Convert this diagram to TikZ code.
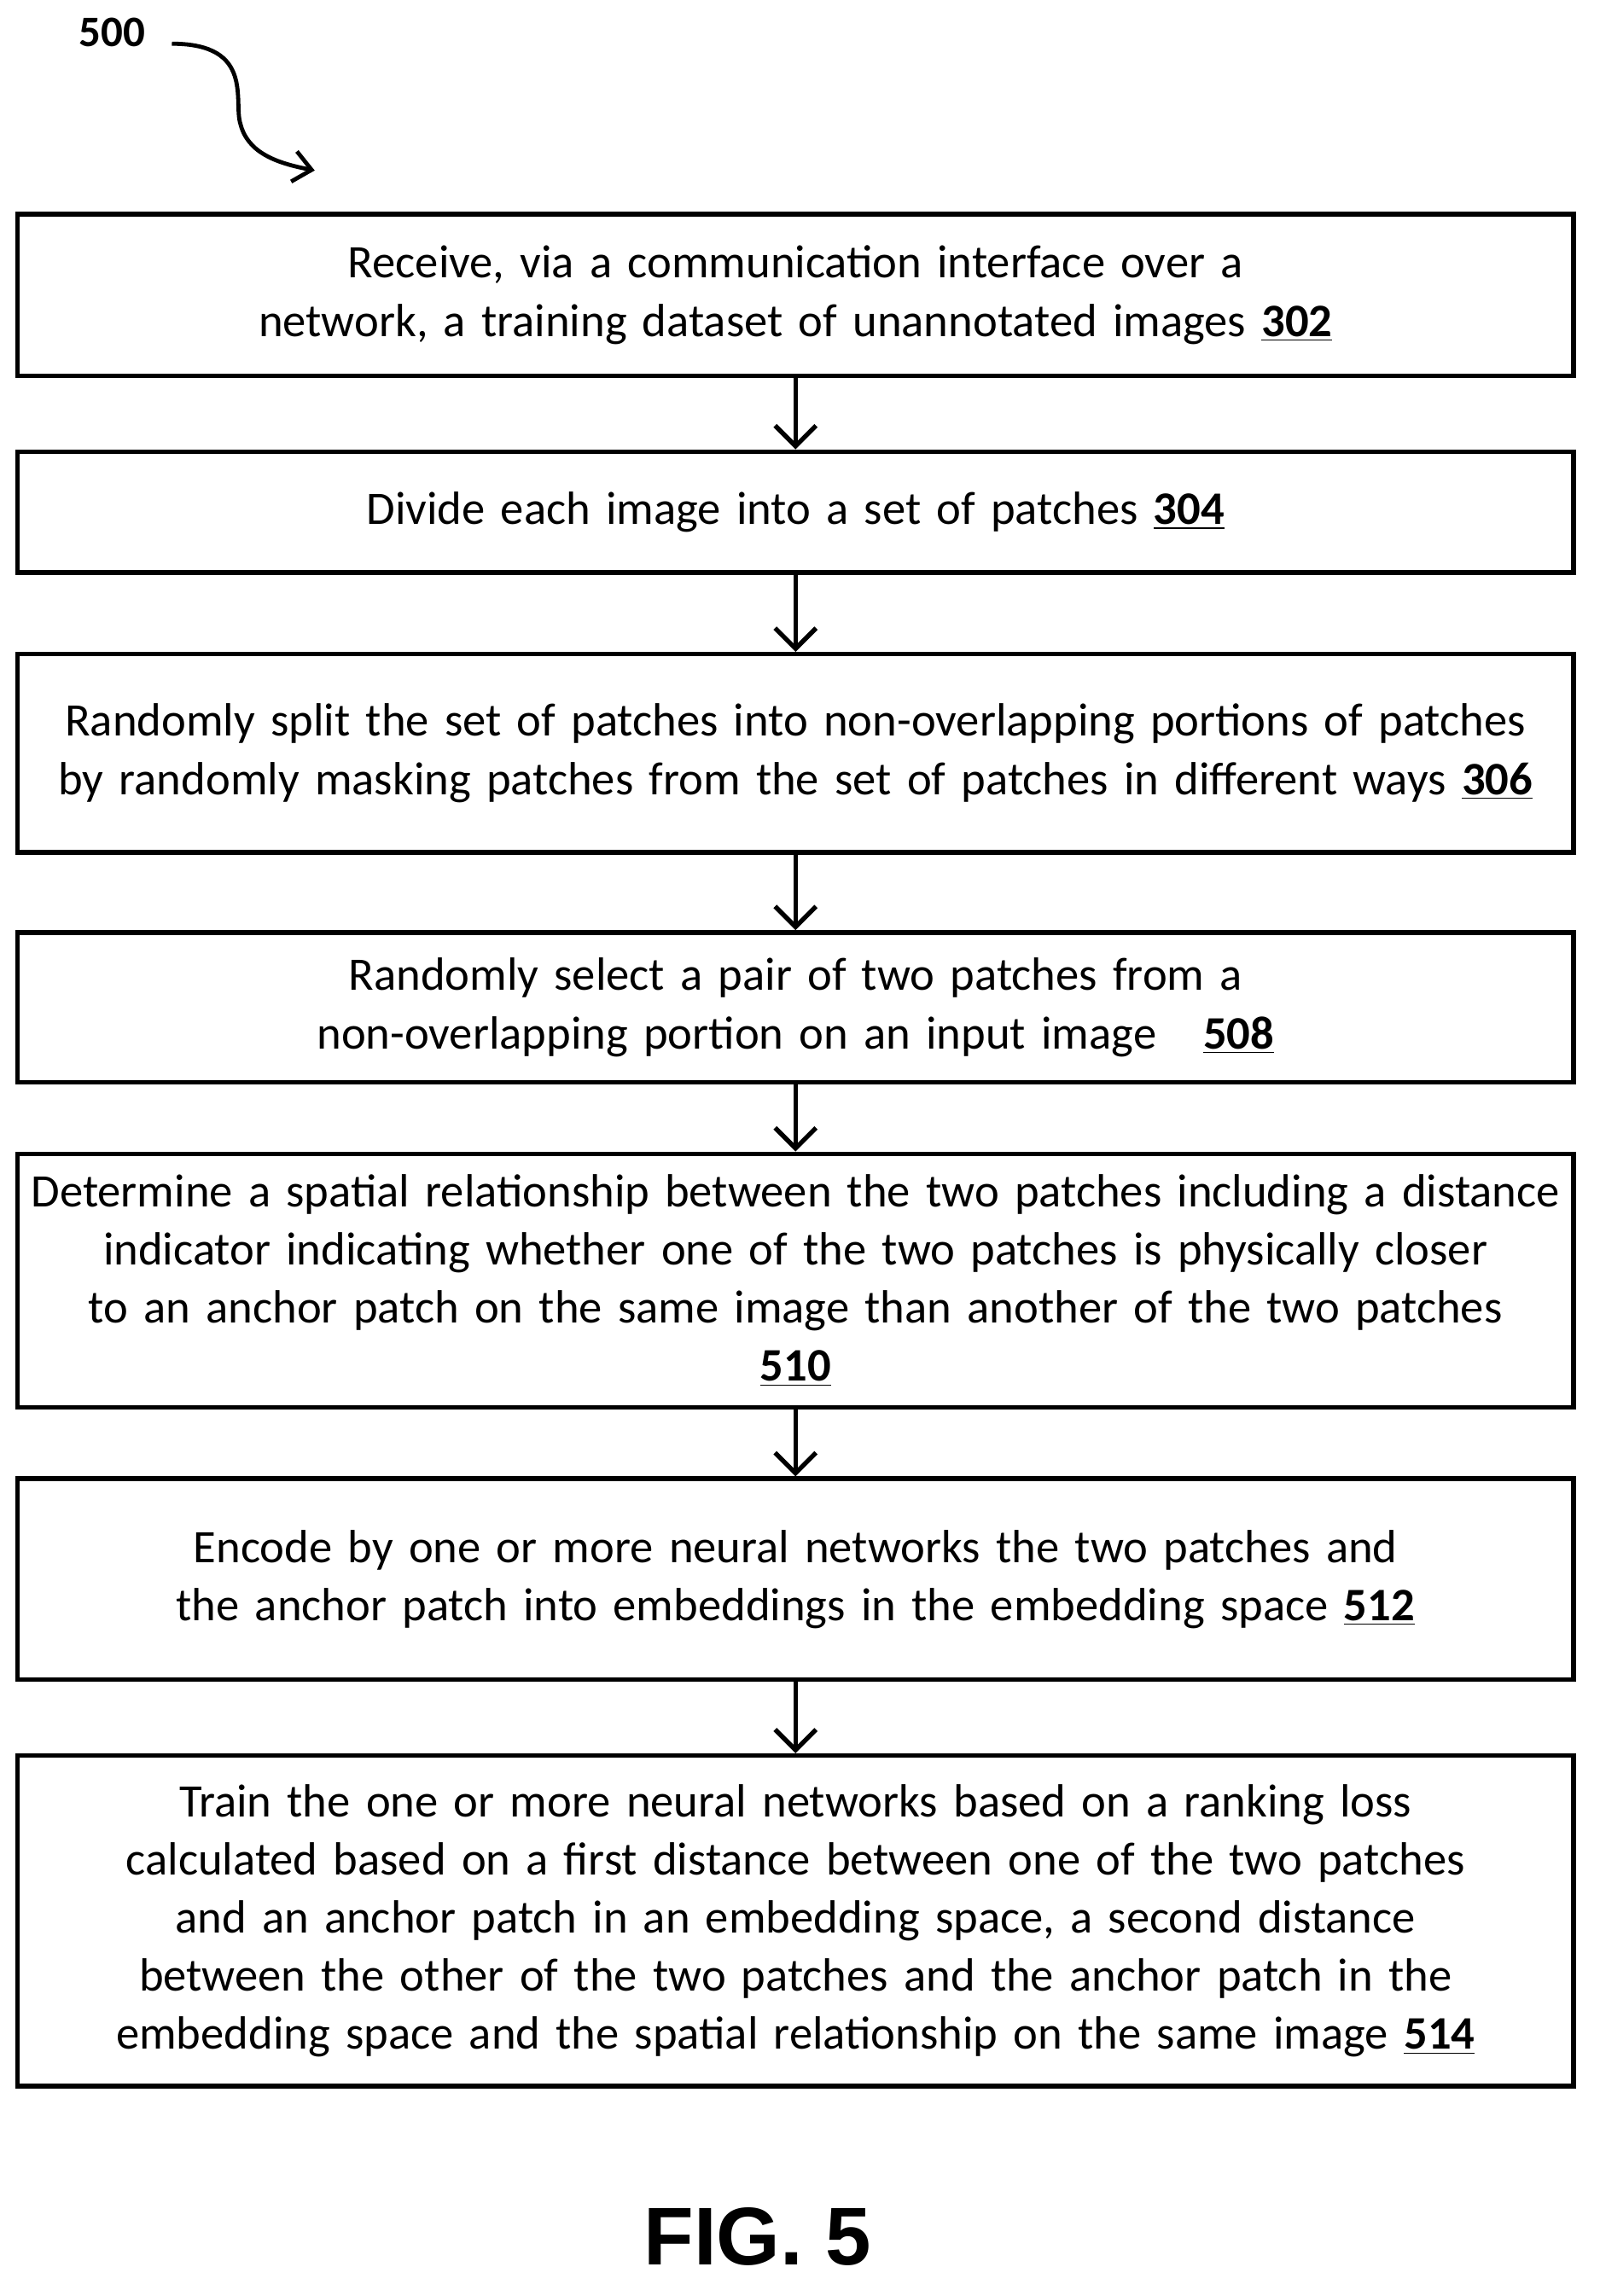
\documentclass[tikz,border=0pt]{standalone}
\usepackage{fontspec}
\setmainfont{Carlito}
\newfontfamily\arialf{Liberation Sans}
\usetikzlibrary{arrows.meta}
\hyphenpenalty=10000
\exhyphenpenalty=10000
\begin{document}
\begin{tikzpicture}[x=0.02cm,y=-0.02cm,
  box/.style={draw,line width=1.8pt,minimum width=21.36cm,text width=21.3cm,align=center,inner sep=0pt,font=\fontsize{18.2}{22.7}\selectfont},
  arr/.style={line width=1.8pt,-{Straight Barb[length=8pt,width=16pt,line width=1.8pt]}}]
\useasboundingbox (0,0) rectangle (1098,1576);
\node[box,minimum height=2.22cm] (b1) at (546,202.5) {Receive, via a communication interface over a network, a training dataset of unannotated images \underline{\textbf{302}}};
\node[box,minimum height=1.66cm] (b2) at (546,351.5) {Divide each image into a set of patches \underline{\textbf{304}}};
\node[box,minimum height=2.72cm] (b3) at (546,517) {Randomly split the set of patches into non-overlapping portions of patches by randomly masking patches from the set of patches in different ways \underline{\textbf{306}}};
\node[box,minimum height=2.06cm] (b4) at (546,691.5) {Randomly select a pair of two patches from a non-overlapping portion on an input image\quad\underline{\textbf{508}}};
\node[box,minimum height=3.48cm] (b5) at (546,879) {Determine a spatial relationship between the two patches including a distance indicator indicating whether one of the two patches is physically closer to an anchor patch on the same image than another of the two patches\\ \underline{\textbf{510}}};
\node[box,minimum height=2.76cm] (b6) at (546,1084) {Encode by one or more neural networks the two patches and the anchor patch into embeddings in the embedding space \underline{\textbf{512}}};
\node[box,minimum height=4.54cm] (b7) at (546,1318.5) {Train the one or more neural networks based on a ranking loss calculated based on a first distance between one of the two patches and an anchor patch in an embedding space, a second distance between the other of the two patches and the anchor patch in the embedding space and the spatial relationship on the same image \underline{\textbf{514}}};
\foreach \a/\b in {b1/b2,b2/b3,b3/b4,b4/b5,b5/b6,b6/b7} \draw[arr] (\a.south) -- (\b.north);
\node[font=\fontsize{17}{20}\selectfont\bfseries] (n500) at (77,22) {500};
\coordinate (c1) at (118,30);
\coordinate (c2) at (216,117);
\draw[line width=1.6pt,-{Straight Barb[length=7pt,width=12pt,line width=1.6pt]}] (c1) .. controls (175,30) and (160,70) .. (165,85) .. controls (170,105) and (190,112) .. (c2);
\node[font=\arialf\fontsize{32}{36}\selectfont\bfseries] (fig) at (520,1535) {FIG. 5};
\end{tikzpicture}
\end{document}
